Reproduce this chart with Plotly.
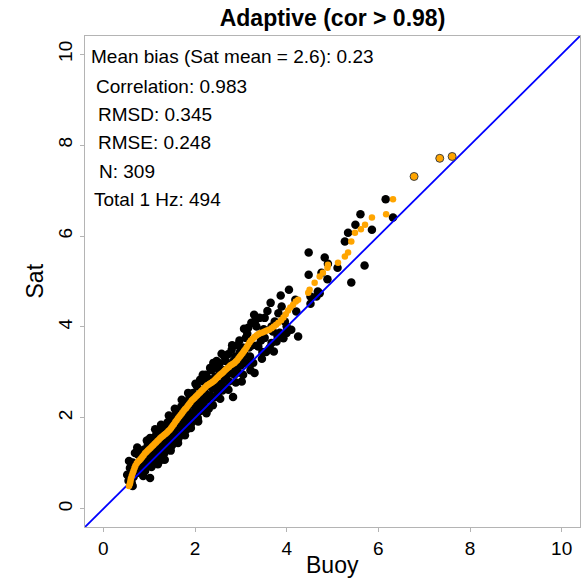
import plotly.graph_objects as go

# Collocated pairs: buoy reference vs satellite estimate (m)
buoy = [
    0.52, 0.58, 0.62, 0.55, 0.60, 0.66, 0.69, 0.64, 0.70,
    0.76, 0.76, 0.72, 0.80, 0.84, 0.82, 0.86, 0.88, 0.90,
    0.91, 0.93, 0.95, 0.97, 1.00, 1.02, 1.02, 1.04, 1.06, 1.08, 0.98,
    1.10, 1.12, 1.14, 1.16, 1.18, 1.20, 1.22, 1.24, 1.27, 1.28,
    1.30, 1.32, 1.34, 1.35, 1.37, 1.40, 1.42, 1.44, 1.46, 1.48, 1.50,
    1.52, 1.54, 1.55, 1.57, 1.59, 1.60, 1.62, 1.64, 1.66, 1.68, 1.70,
    1.72, 1.73, 1.75, 1.77, 1.79, 1.80, 1.82, 1.84, 1.86, 1.88, 1.90,
    1.92, 1.94, 1.96, 1.98, 2.00, 2.02, 2.04, 2.06, 2.08, 2.10, 2.11,
    2.12, 2.14, 2.16, 2.18, 2.20, 2.22, 2.24, 2.26, 2.28, 2.30,
    2.32, 2.34, 2.36, 2.38, 2.40, 2.42, 2.44, 2.46, 2.48, 2.50,
    2.52, 2.54, 2.56, 2.58, 2.60, 2.61, 2.63, 2.65, 2.67, 2.70,
    2.72, 2.74, 2.76, 2.78, 2.80, 2.83, 2.84, 2.86, 2.88, 2.90,
    2.92, 2.94, 2.96, 2.98, 3.00, 3.02, 3.04, 3.06, 3.07, 3.08,
    3.11, 3.13, 3.16, 3.18, 3.20, 3.23, 3.25, 3.27, 3.29, 3.30,
    3.34, 3.36, 3.38, 3.41, 3.41, 3.44, 3.47, 3.52, 3.52, 3.50,
    3.63, 3.65, 3.67, 3.67, 3.70, 3.72, 3.74, 3.78, 3.80, 3.85,
    3.87, 3.89, 3.96, 4.00, 4.00, 4.05, 4.10, 4.19, 4.21, 4.25,
    4.48, 4.48, 4.52, 4.52, 4.65, 4.68, 4.72, 4.76, 4.83, 4.89, 4.90,
    5.11, 5.27, 5.34, 5.41, 5.50, 5.61, 5.70, 5.86, 6.16, 6.32,
    0.56, 0.64, 0.74, 0.87, 0.95, 1.05, 1.13, 1.19, 1.26, 1.33,
    1.43, 1.47, 1.56, 1.63, 1.71, 1.78, 1.85, 1.91, 2.01, 2.07,
    2.17, 2.25, 2.33, 2.39, 2.47, 2.55, 2.64, 2.73, 2.81, 2.89,
    2.97, 3.05, 3.14, 3.21, 3.32, 3.46, 3.58, 3.55, 3.82, 3.93,
]
sat = [
    0.75, 0.90, 0.57, 0.62, 0.80, 0.70, 1.23, 1.02, 0.95,
    1.19, 1.01, 0.78, 0.88, 0.79, 1.10, 1.00, 1.30, 1.15,
    0.83, 1.05, 1.25, 1.40, 1.10, 0.68, 1.56, 1.30, 1.18, 1.45, 0.95,
    1.05, 1.35, 1.60, 1.25, 1.48, 1.15, 1.70, 1.38, 1.08, 1.55,
    1.30, 1.80, 1.08, 1.62, 1.45, 1.90, 1.55, 1.35, 1.75, 1.60, 1.40,
    1.95, 1.70, 1.50, 1.85, 2.10, 1.62, 1.90, 1.55, 2.00, 1.78, 2.25,
    1.65, 1.95, 2.15, 1.82, 2.35, 2.05, 1.75, 2.20, 1.95, 2.45, 2.10,
    1.88, 2.30, 2.55, 2.05, 2.40, 2.20, 2.70, 2.00, 2.50, 2.30, 2.84,
    2.15, 2.60, 2.40, 2.80, 2.25, 2.55, 2.95, 2.40, 2.70, 2.20,
    2.85, 2.50, 3.05, 2.65, 3.21, 2.45, 2.90, 2.70, 3.10, 2.55,
    2.95, 3.20, 2.75, 3.41, 2.60, 2.69, 3.05, 2.85, 3.25, 2.95,
    3.40, 2.80, 3.15, 3.00, 3.50, 2.46, 3.25, 2.95, 3.35, 3.10,
    3.60, 3.00, 3.30, 3.45, 3.15, 2.80, 3.55, 3.25, 3.96, 3.40,
    3.76, 3.20, 3.98, 3.55, 3.35, 4.09, 3.60, 3.21, 4.27, 2.99,
    4.01, 3.59, 3.57, 4.20, 3.83, 3.70, 3.45, 4.20, 3.76, 3.95,
    3.54, 4.53, 3.65, 4.01, 3.90, 3.46, 4.12, 3.68, 3.80, 3.87,
    4.69, 4.45, 4.12, 4.01, 3.87, 4.82, 3.94, 4.60, 4.34, 3.79,
    5.64, 5.15, 4.67, 4.51, 4.67, 4.78, 4.74, 5.19, 5.53, 5.05, 5.39,
    5.30, 5.88, 6.07, 4.98, 6.25, 6.48, 5.35, 6.14, 6.81, 6.41,
    1.05, 0.50, 1.35, 0.72, 1.50, 0.92, 1.75, 0.98, 1.85, 1.22,
    2.05, 1.28, 2.20, 1.45, 2.40, 1.62, 2.55, 1.78, 2.75, 1.92,
    2.95, 2.10, 3.10, 2.28, 3.25, 2.42, 3.35, 2.62, 3.60, 2.78,
    3.70, 2.95, 3.85, 3.05, 4.15, 3.30, 4.35, 3.45, 4.30, 3.75,
]

# Quantile-quantile curve (buoy quantiles vs satellite quantiles)
qq_buoy = [
    0.56, 0.58, 0.59, 0.60, 0.62, 0.64, 0.66, 0.68, 0.70, 0.73,
    0.76, 0.79, 0.82, 0.85, 0.88, 0.91, 0.94, 0.97, 1.00, 1.03,
    1.06, 1.09, 1.12, 1.15, 1.18, 1.21, 1.24, 1.27, 1.30, 1.33,
    1.36, 1.39, 1.42, 1.45, 1.48, 1.51, 1.54, 1.57, 1.60, 1.63,
    1.66, 1.69, 1.72, 1.75, 1.78, 1.81, 1.84, 1.87, 1.90, 1.93,
    1.96, 1.99, 2.02, 2.05, 2.08, 2.11, 2.14, 2.17, 2.20, 2.23,
    2.26, 2.29, 2.32, 2.35, 2.38, 2.41, 2.44, 2.47, 2.50, 2.53,
    2.56, 2.59, 2.62, 2.65, 2.68, 2.71, 2.74, 2.77, 2.80, 2.83,
    2.86, 2.89, 2.92, 2.95, 2.98, 3.01, 3.04, 3.07, 3.10, 3.13,
    3.16, 3.19, 3.22, 3.26, 3.30, 3.34, 3.38, 3.42, 3.47, 3.52,
    3.57, 3.62, 3.67, 3.72, 3.77, 3.82, 3.88, 3.93, 3.98, 4.03,
    4.08, 4.14, 4.20, 4.25,
    4.47, 4.50, 4.61, 4.72, 4.79, 4.89, 4.90, 5.12, 5.27, 5.34,
    5.41, 5.49, 5.62, 5.71, 5.86, 6.17, 6.32,
]
qq_sat = [
    0.50, 0.55, 0.60, 0.66, 0.72, 0.78, 0.84, 0.90, 0.95, 1.00,
    1.04, 1.07, 1.10, 1.14, 1.18, 1.22, 1.25, 1.28, 1.31, 1.34,
    1.37, 1.40, 1.43, 1.46, 1.49, 1.52, 1.55, 1.58, 1.60, 1.63,
    1.65, 1.68, 1.71, 1.74, 1.78, 1.82, 1.86, 1.91, 1.95, 1.99,
    2.03, 2.07, 2.11, 2.15, 2.19, 2.22, 2.26, 2.30, 2.34, 2.38,
    2.41, 2.44, 2.47, 2.50, 2.53, 2.56, 2.59, 2.62, 2.65, 2.68,
    2.71, 2.73, 2.75, 2.77, 2.79, 2.81, 2.84, 2.87, 2.90, 2.93,
    2.96, 2.98, 3.01, 3.04, 3.07, 3.10, 3.12, 3.15, 3.17, 3.19,
    3.21, 3.24, 3.27, 3.31, 3.35, 3.39, 3.43, 3.47, 3.51, 3.56,
    3.61, 3.66, 3.70, 3.74, 3.78, 3.81, 3.84, 3.86, 3.88, 3.90,
    3.92, 3.94, 3.97, 4.01, 4.05, 4.09, 4.15, 4.21, 4.28, 4.36,
    4.43, 4.49, 4.56, 4.60,
    4.75, 4.82, 4.97, 5.11, 5.19, 5.30, 5.37, 5.41, 5.55, 5.64,
    5.88, 6.07, 6.15, 6.25, 6.41, 6.48, 6.81,
]

# Upper-tail quantiles from the full 1 Hz record
tail_buoy = [6.78, 7.34, 7.61]
tail_sat = [7.31, 7.71, 7.75]

stats_lines = [
    "Mean bias (Sat mean = 2.6): 0.23",
    "Correlation: 0.983",
    "RMSD: 0.345",
    "RMSE: 0.248",
    "N: 309",
    "Total 1 Hz: 494",
]
stats_x = [-0.31, -0.20, -0.17, -0.17, -0.13, -0.24]
stats_y = [9.94, 9.30, 8.68, 8.06, 7.43, 6.81]

axis_min, axis_max = -0.4, 10.4
tick_vals = [0, 2, 4, 6, 8, 10]

FONT = "Liberation Sans, Arial, Helvetica, sans-serif"
GRAY = "#b4b4b4"

fig = go.Figure()

fig.add_trace(go.Scatter(
    x=buoy, y=sat, mode="markers",
    marker=dict(size=8.5, color="black", line=dict(width=0)),
    showlegend=False, hoverinfo="skip",
))

fig.add_trace(go.Scatter(
    x=[axis_min, axis_max], y=[axis_min, axis_max], mode="lines",
    line=dict(color="#0000ff", width=1.8),
    showlegend=False, hoverinfo="skip",
))

fig.add_trace(go.Scatter(
    x=qq_buoy, y=qq_sat, mode="markers",
    marker=dict(size=6.5, color="#ffa500", line=dict(width=0)),
    showlegend=False, hoverinfo="skip",
))

fig.add_trace(go.Scatter(
    x=tail_buoy, y=tail_sat, mode="markers",
    marker=dict(size=8, color="#ffa500", line=dict(width=1, color="#404040")),
    showlegend=False, hoverinfo="skip",
))

for txt, tx, ty in zip(stats_lines, stats_x, stats_y):
    fig.add_annotation(
        x=tx, y=ty, xref="x", yref="y", text=txt, showarrow=False,
        xanchor="left", yanchor="middle",
        font=dict(family=FONT, size=19, color="black"),
    )

# Axis titles
fig.add_annotation(
    x=0.5, y=0, xref="paper", yref="paper", yshift=-38, text="Buoy",
    showarrow=False, xanchor="center", yanchor="middle",
    font=dict(family=FONT, size=23, color="black"),
)
fig.add_annotation(
    x=0, y=0.5, xref="paper", yref="paper", xshift=-51, text="Sat",
    textangle=-90, showarrow=False, xanchor="center", yanchor="middle",
    font=dict(family=FONT, size=23, color="black"),
)

axis_common = dict(
    range=[axis_min, axis_max], tickvals=tick_vals,
    showgrid=False, zeroline=False,
    showline=True, linecolor=GRAY, linewidth=1, mirror=True,
    ticks="outside", ticklen=4, tickcolor=GRAY, tickwidth=1,
    tickfont=dict(family=FONT, size=19, color="black"),
)

fig.update_layout(
    width=584, height=580,
    margin=dict(l=85, r=4, t=36, b=53),
    paper_bgcolor="white", plot_bgcolor="white",
    title=dict(
        text="<b>Adaptive (cor > 0.98)</b>",
        x=0.5, xref="paper", xanchor="center",
        y=1 - 18 / 580, yref="container", yanchor="middle",
        font=dict(family=FONT, size=23, color="black"),
    ),
    xaxis=dict(**axis_common),
    yaxis=dict(**axis_common, tickangle=-90),
)

fig.write_html("out.html")
